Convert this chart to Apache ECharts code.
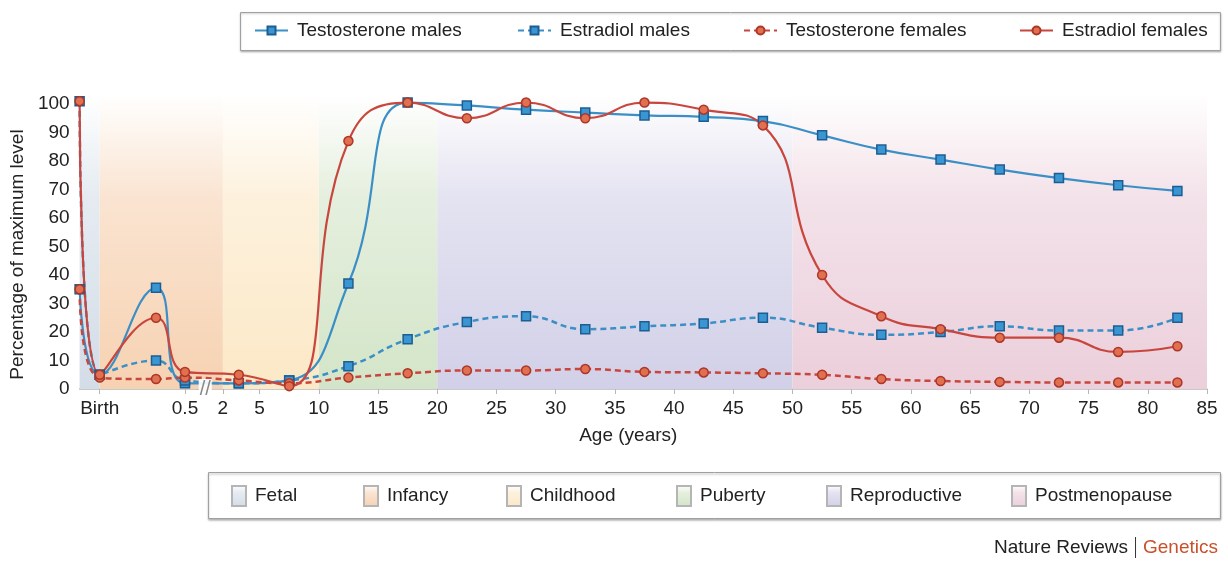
<!DOCTYPE html>
<html>
<head>
<meta charset="utf-8">
<script src="https://cdn.jsdelivr.net/npm/echarts@6/dist/echarts.min.js"></script>
<style>
  html, body { margin: 0; padding: 0; background: #fff; }
  #chart { width: 1228px; height: 561px; }
</style>
</head>
<body>
<div id="chart"></div>
<script>
// ages in years, fetal point sits just before birth
const ages = [-0.25, 0, 0.33, 0.5, 3.3, 7.5, 12.5, 17.5, 22.5, 27.5, 32.5, 37.5, 42.5, 47.5, 52.5, 57.5, 62.5, 67.5, 72.5, 77.5, 82.5];
const testosteroneMales = [35, 5, 35.5, 2, 2, 3, 37, 100.5, 99.5, 98, 97, 96, 95.5, 94, 89, 84, 80.5, 77, 74, 71.5, 69.5];
const estradiolMales = [101, 5, 10, 3, 2, 3, 8, 17.5, 23.5, 25.5, 21, 22, 23, 25, 21.5, 19, 20, 22, 20.5, 20.5, 25];
const testosteroneFemales = [35, 4, 3.5, 4, 3, 2, 4, 5.5, 6.5, 6.5, 7, 6, 5.8, 5.5, 5, 3.5, 2.8, 2.5, 2.3, 2.3, 2.3];
const estradiolFemales = [101, 5, 25, 6, 5, 1, 87, 100.5, 95, 100.5, 95, 100.5, 98, 92.5, 40, 25.5, 21, 18, 18, 13, 15];

// x axis ticks
const tickAges = [0, 0.5, 2, 5, 10, 15, 20, 25, 30, 35, 40, 45, 50, 55, 60, 65, 70, 75, 80, 85];
const tickLabels = ['Birth', '0.5', '2', '5', '10', '15', '20', '25', '30', '35', '40', '45', '50', '55', '60', '65', '70', '75', '80', '85'];

// life phases
const phaseNames = ['Fetal', 'Infancy', 'Childhood', 'Puberty', 'Reproductive', 'Postmenopause'];
const phaseStart = [-0.25, 0, 2, 10, 20, 50];
const phaseEnd = [0, 2, 10, 20, 50, 85];

// the age axis is stretched before 10 years: piecewise linear scale
const knotAges = [-0.25, 0, 0.5, 2, 5, 10, 85];
const knotPos = [-10.2, -8.5, -1.3, 1.9, 5, 10, 85];
function agePos(age) {
    for (let i = 1; i < knotAges.length; i++) {
        if (age <= knotAges[i]) {
            const t = (age - knotAges[i - 1]) / (knotAges[i] - knotAges[i - 1]);
            return knotPos[i - 1] + t * (knotPos[i] - knotPos[i - 1]);
        }
    }
    return knotPos[knotPos.length - 1];
}
const tickPos = tickAges.map(agePos);
const tickLabel = (v) => {
    let best = 0;
    tickPos.forEach((p, i) => { if (Math.abs(p - v) < Math.abs(tickPos[best] - v)) best = i; });
    return tickLabels[best];
};

const font = 'Liberation Sans, Arial, sans-serif';
const textColor = '#222';
const blue = '#3b8fc7';
const red = '#c8463d';
const phaseColors = ['#d3dde8', '#f6d2b2', '#fbe8c6', '#d3e5c8', '#d2d0e8', '#ebcfdb'];

const pairs = (ys) => ages.map((a, i) => [agePos(a), ys[i]]);

const lineSeries = (name, ys, dashed, square) => ({
    name,
    type: 'line',
    data: pairs(ys),
    smooth: 0.5,
    clip: false,
    z: 5,
    symbol: square ? 'rect' : 'circle',
    symbolSize: 9,
    lineStyle: { color: square ? blue : red, width: dashed ? 2.5 : 2.2, type: dashed ? [6, 4] : 'solid' },
    itemStyle: {
        color: square ? '#3a96d2' : '#e0704f',
        borderColor: square ? '#1c5d92' : '#ad3628',
        borderWidth: 1.5,
    },
});

const bandFill = (c) => new echarts.graphic.LinearGradient(0, 0, 0, 1, [
    { offset: 0, color: '#ffffff' },
    { offset: 0.35, color: echarts.color.lerp(0.6, ['#ffffff', c]) },
    { offset: 1, color: c },
]);

const bandSeries = phaseNames.map((name, k) => ({
    name,
    type: 'custom',
    z: 1,
    silent: true,
    itemStyle: { color: bandFill(phaseColors[k]), borderColor: '#b5b5b5', borderWidth: 1 },
    encode: { x: [0, 1], y: 2 },
    data: [[agePos(phaseStart[k]), agePos(phaseEnd[k]), 0]],
    renderItem: (params, api) => {
        const cs = params.coordSys;
        const x0 = api.coord([api.value(0), 0])[0];
        const x1 = api.coord([api.value(1), 0])[0];
        return {
            type: 'rect',
            shape: { x: x0, y: cs.y - 10, width: x1 - x0, height: cs.height + 10 },
            style: { fill: bandFill(phaseColors[k]) },
        };
    },
}));

const seriesNames = ['Testosterone males', 'Estradiol males', 'Testosterone females', 'Estradiol females'];
const topLegendLeft = [254, 517, 743, 1019];
const bottomLegendLeft = [231, 363, 506, 676, 826, 1011];

const chart = echarts.init(document.getElementById('chart'));
chart.setOption({
    animation: false,
    textStyle: { fontFamily: font },
    grid: { left: 78, right: 21, top: 104, bottom: 172 },
    xAxis: {
        type: 'value',
        min: agePos(-0.25),
        max: agePos(85),
        name: 'Age (years)',
        nameLocation: 'middle',
        nameGap: 37,
        nameTextStyle: { fontSize: 19, color: textColor, padding: [0, 30, 0, 0] },
        splitLine: { show: false },
        axisLine: { show: true, lineStyle: { color: '#b8b8b8', width: 1.5 } },
        axisTick: { show: true, length: 5, lineStyle: { color: '#b8b8b8' }, customValues: tickPos },
        axisLabel: { fontSize: 19, color: textColor, margin: 10, customValues: tickPos, formatter: tickLabel },
    },
    yAxis: {
        type: 'value',
        min: 0,
        max: 100,
        interval: 10,
        name: 'Percentage of maximum level',
        nameLocation: 'middle',
        nameGap: 52,
        nameTextStyle: { fontSize: 19, color: textColor, padding: [0, 16, 0, 0] },
        splitLine: { show: false },
        axisLine: { show: true, lineStyle: { color: '#b8b8b8' } },
        axisTick: { show: true, length: 4, lineStyle: { color: '#b8b8b8' } },
        axisLabel: { fontSize: 19, color: textColor, margin: 10 },
    },
    legend: [
        ...seriesNames.map((n, i) => ({
            data: [n],
            left: topLegendLeft[i],
            top: 21,
            padding: 0,
            itemWidth: 33,
            itemHeight: 10,
            itemGap: 0,
            textStyle: { fontSize: 19, color: textColor, padding: [0, 0, 0, 4] },
        })),
        ...phaseNames.map((n, i) => ({
            data: [n],
            left: bottomLegendLeft[i],
            top: 485,
            padding: 0,
            icon: 'rect',
            itemWidth: 14,
            itemHeight: 20,
            textStyle: { fontSize: 19, color: textColor, padding: [0, 0, 0, 4] },
        })),
    ],
    graphic: [
        {
            type: 'rect', left: 240, top: 12, silent: true,
            shape: { width: 980, height: 38 },
            style: { fill: '#fff', stroke: '#a0a0a0', lineWidth: 1, shadowColor: 'rgba(0,0,0,0.25)', shadowBlur: 2, shadowOffsetY: 1 },
            z: -1,
        },
        {
            type: 'rect', left: 208, top: 472, silent: true,
            shape: { width: 1012, height: 46 },
            style: { fill: '#fff', stroke: '#a0a0a0', lineWidth: 1, shadowColor: 'rgba(0,0,0,0.3)', shadowBlur: 2, shadowOffsetY: 1.5 },
            z: -1,
        },
        {
            type: 'text', right: 10, bottom: 3, silent: true,
            style: {
                text: '{a|Nature Reviews}{s|}{b|Genetics}',
                rich: {
                    a: { fontSize: 19, fill: '#222', fontFamily: font, padding: [0, 7, 0, 0] },
                    s: { width: 1, height: 21, backgroundColor: '#333' },
                    b: { fontSize: 19, fill: '#c8502a', fontFamily: font, padding: [0, 0, 0, 7] },
                },
            },
        },
    ],
    series: [
        ...bandSeries,
        lineSeries(seriesNames[0], testosteroneMales, false, true),
        lineSeries(seriesNames[1], estradiolMales, true, true),
        lineSeries(seriesNames[2], testosteroneFemales, true, false),
        lineSeries(seriesNames[3], estradiolFemales, false, false),
    ],
});

// "//" break mark on the age axis between 0.5 and 2 years
const brk = chart.convertToPixel({ xAxisIndex: 0, yAxisIndex: 0 }, [agePos(1.3), 0]);
chart.setOption({
    graphic: [{
        id: 'axisBreak',
        type: 'text',
        x: brk[0],
        y: brk[1],
        silent: true,
        z: 10,
        style: { text: '//', fontSize: 20, fontFamily: font, fill: '#888', align: 'center', verticalAlign: 'middle', backgroundColor: 'rgba(255,255,255,0.9)', padding: [0, 1] },
    }],
});
</script>
</body>
</html>
